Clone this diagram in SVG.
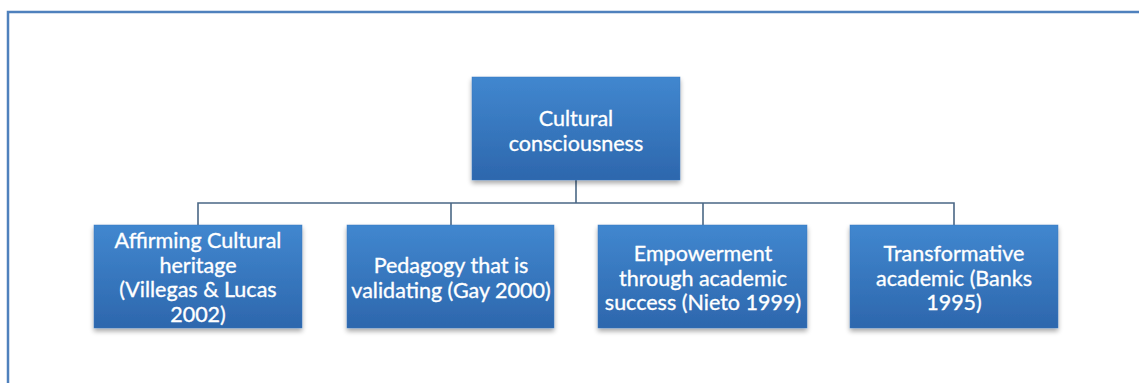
<svg xmlns="http://www.w3.org/2000/svg" width="1139" height="383" viewBox="0 0 1139 383">
<defs>
<linearGradient id="g" x1="0" y1="0" x2="0" y2="1">
<stop offset="0" stop-color="#4187cf"/>
<stop offset="1" stop-color="#2d67ad"/>
</linearGradient>
<filter id="sh" x="-10%" y="-10%" width="120%" height="130%">
<feGaussianBlur in="SourceAlpha" stdDeviation="2.5"/>
<feOffset dx="0" dy="3" result="b"/>
<feComponentTransfer><feFuncA type="linear" slope="0.35"/></feComponentTransfer>
<feMerge><feMergeNode/><feMergeNode in="SourceGraphic"/></feMerge>
</filter>
</defs>
<style>
.box{fill:url(#g);stroke:#3a78bf;stroke-width:0.5;filter:url(#sh)}
.t{font-family:Lato,"Liberation Sans",sans-serif;font-size:21.5px;fill:#ffffff;stroke:#ffffff;stroke-width:0.35;text-anchor:middle}
.c{fill:none;stroke:#4a6785;stroke-width:1.6}
.frame{fill:none;stroke:#4f81bd;stroke-width:2.5}
</style>
<rect width="1139" height="383" fill="#ffffff"/>
<path class="frame" d="M8,390 L8,12 L1145,12"/>
<g id="connectors">
<path class="c" d="M576,180 L576,203"/>
<path class="c" d="M198,225 L198,203 L954,203 L954,225"/>
<path class="c" d="M451,203 L451,225"/>
<path class="c" d="M703,203 L703,225"/>
</g>
<g id="n0">
<rect class="box" x="472" y="77" width="208" height="103"/>
<text class="t" x="576" y="126">Cultural</text>
<text class="t" x="576" y="150.5">consciousness</text>
</g>
<g id="n1">
<rect class="box" x="94" y="225" width="208" height="103"/>
<text class="t" x="198" y="248">Affirming Cultural</text>
<text class="t" x="198" y="272.5">heritage</text>
<text class="t" x="198" y="297">(Villegas &amp; Lucas</text>
<text class="t" x="198" y="321.5">2002)</text>
</g>
<g id="n2">
<rect class="box" x="347" y="225" width="207" height="103"/>
<text class="t" x="451" y="273">Pedagogy that is</text>
<text class="t" x="451" y="297.5">validating (Gay 2000)</text>
</g>
<g id="n3">
<rect class="box" x="598" y="225" width="209" height="103"/>
<text class="t" x="703" y="261">Empowerment</text>
<text class="t" x="703" y="285.5">through academic</text>
<text class="t" x="703" y="310">success (Nieto 1999)</text>
</g>
<g id="n4">
<rect class="box" x="850" y="225" width="208" height="103"/>
<text class="t" x="954" y="261">Transformative</text>
<text class="t" x="954" y="285.5">academic (Banks</text>
<text class="t" x="954" y="310">1995)</text>
</g>
</svg>
